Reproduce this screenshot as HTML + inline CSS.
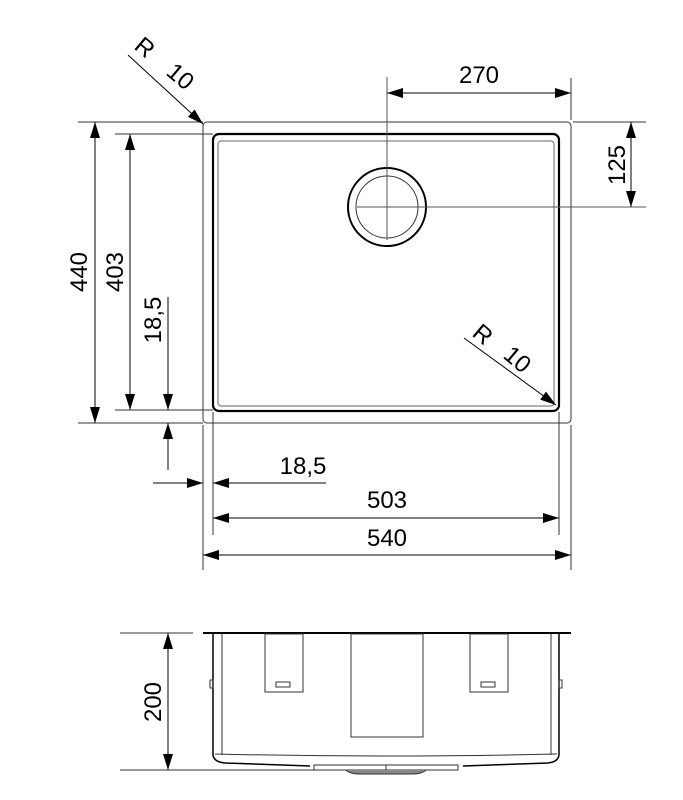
<!DOCTYPE html>
<html><head><style>body{margin:0;background:#fff}svg{display:block}</style></head><body>
<svg width="683" height="800" viewBox="0 0 683 800" xmlns="http://www.w3.org/2000/svg" font-family="Liberation Sans, sans-serif">
<defs>
<marker id="a" viewBox="0 0 10 10" refX="10" refY="5" markerWidth="16" markerHeight="10" orient="auto-start-reverse" markerUnits="userSpaceOnUse" preserveAspectRatio="none"><path d="M0 0L10 5L0 10z" fill="#000"/></marker>
</defs>
<g fill="none" stroke="#333" stroke-width="1">
<rect x="203" y="122" width="368" height="301" rx="4"/>
<rect x="213" y="134" width="346" height="277" rx="6" stroke="#000" stroke-width="2.2"/>
<rect x="218" y="141" width="336" height="265" rx="3" stroke="#666"/>
<circle cx="387" cy="207" r="39" stroke="#000" stroke-width="2"/>
<circle cx="387" cy="207" r="31"/>
<line x1="387" y1="77" x2="387" y2="240" stroke="#555"/>
<line x1="357" y1="207" x2="646" y2="207" stroke="#555"/>
<line x1="571" y1="78" x2="571" y2="120"/>
<line x1="573" y1="122" x2="646" y2="122"/>
<line x1="78" y1="122" x2="203" y2="122"/>
<line x1="115" y1="134" x2="213" y2="134"/>
<line x1="78" y1="423" x2="203" y2="423"/>
<line x1="115" y1="410" x2="213" y2="410"/>
<line x1="203" y1="425" x2="203" y2="570"/>
<line x1="213" y1="412" x2="213" y2="535"/>
<line x1="559" y1="412" x2="559" y2="535"/>
<line x1="571" y1="425" x2="571" y2="570"/>
</g>
<g stroke="#000" stroke-width="1" fill="none">
<line x1="387" y1="93" x2="571" y2="93" marker-start="url(#a)" marker-end="url(#a)"/>
<line x1="631" y1="122" x2="631" y2="207" marker-start="url(#a)" marker-end="url(#a)"/>
<line x1="95" y1="122" x2="95" y2="423" marker-start="url(#a)" marker-end="url(#a)"/>
<line x1="130" y1="134" x2="130" y2="410" marker-start="url(#a)" marker-end="url(#a)"/>
<line x1="168" y1="297" x2="168" y2="410" marker-end="url(#a)"/>
<line x1="168" y1="470" x2="168" y2="423" marker-end="url(#a)"/>
<line x1="153" y1="483" x2="203" y2="483" marker-end="url(#a)"/>
<line x1="326" y1="483" x2="213" y2="483" marker-end="url(#a)"/>
<line x1="213" y1="518" x2="559" y2="518" marker-start="url(#a)" marker-end="url(#a)"/>
<line x1="203" y1="555" x2="571" y2="555" marker-start="url(#a)" marker-end="url(#a)"/>
<line x1="128" y1="55" x2="203" y2="124" marker-end="url(#a)"/>
<line x1="464" y1="338" x2="556" y2="405" marker-end="url(#a)"/>
<line x1="168" y1="633" x2="168" y2="770" marker-start="url(#a)" marker-end="url(#a)"/>
</g>
<g font-size="24" fill="#000">
<text x="479" y="83" text-anchor="middle">270</text>
<text transform="translate(625,165) rotate(-90)" text-anchor="middle">125</text>
<text transform="translate(87,272) rotate(-90)" text-anchor="middle">440</text>
<text transform="translate(123,272) rotate(-90)" text-anchor="middle">403</text>
<text transform="translate(161,320) rotate(-90)" text-anchor="middle">18,5</text>
<text x="303" y="474" text-anchor="middle">18,5</text>
<text x="387" y="508" text-anchor="middle">503</text>
<text x="387" y="546" text-anchor="middle">540</text>
<text transform="translate(133,48) rotate(40)">R</text>
<text transform="translate(165,74) rotate(40)">10</text>
<text transform="translate(471,335) rotate(40)">R</text>
<text transform="translate(502,357) rotate(40)">10</text>
<text transform="translate(161,702) rotate(-90)" text-anchor="middle">200</text>
</g>
<g fill="none" stroke="#333" stroke-width="1">
<line x1="120" y1="633" x2="193" y2="633"/>
<line x1="120" y1="770" x2="320" y2="770"/>
<line x1="203" y1="633" x2="571" y2="633" stroke="#000" stroke-width="2"/>
<path d="M213 634 L213 755 Q214 762 225 763 L310 766 M463 766 L548 763 Q558 762 559 755 L559 634" stroke="#000" stroke-width="1.5"/>
<line x1="222" y1="634" x2="222" y2="755"/>
<line x1="551" y1="634" x2="551" y2="755"/>
<path d="M215 754 Q300 756 387 756 Q470 756 557 754"/>
<rect x="265" y="634" width="38" height="58"/>
<rect x="470" y="634" width="38" height="58"/>
<rect x="276" y="682" width="14" height="5"/>
<rect x="481" y="682" width="14" height="5"/>
<rect x="351" y="634" width="72" height="103"/>
<rect x="314" y="765" width="144" height="5"/>
<line x1="386" y1="765" x2="386" y2="770"/>
<path d="M346 770 Q350 774 360 774 L413 774 Q422 774 426 770" fill="#888"/>
<rect x="210" y="680" width="3" height="8"/>
<rect x="559" y="680" width="3" height="8"/>
</g>
</svg>
</body></html>
